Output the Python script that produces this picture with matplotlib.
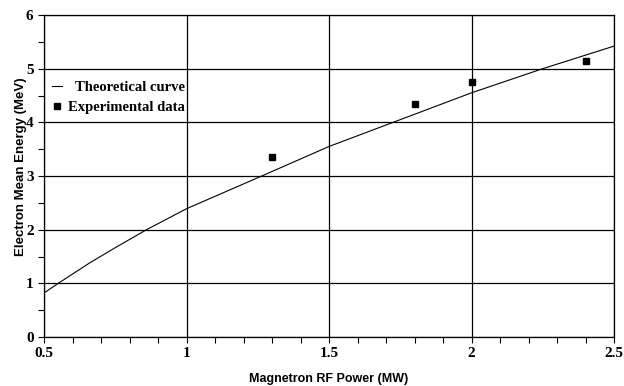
import numpy as np
import matplotlib
matplotlib.use('Agg')
import matplotlib.pyplot as plt
from matplotlib.ticker import MultipleLocator

# theoretical curve
power_curve = [0.5, 0.55, 0.66, 0.755, 0.86, 1.0, 1.264, 1.5, 1.725, 2.0, 2.25, 2.5]
energy_curve = [0.82, 1.0, 1.38, 1.68, 2.0, 2.39, 3.0, 3.55, 4.0, 4.55, 5.0, 5.42]

# measured points
power_exp = [1.3, 1.8, 2.0, 2.4]
energy_exp = [3.36, 4.35, 4.75, 5.15]

fig = plt.figure(figsize=(6.24, 3.86), dpi=100)
ax = fig.add_axes([44/624, 1-337/386, 570/624, 322/386])

ax.plot(power_curve, energy_curve, color='black', lw=0.8, label='Theoretical curve')
ax.plot(power_exp, energy_exp, 's', color='black', ms=5, ls='none', label='Experimental data')

ax.set_xlim(0.5, 2.5)
ax.set_ylim(0, 6)
ax.xaxis.set_major_locator(MultipleLocator(0.5))
ax.xaxis.set_minor_locator(MultipleLocator(0.1))
ax.yaxis.set_major_locator(MultipleLocator(1))
ax.yaxis.set_minor_locator(MultipleLocator(0.5))
ax.set_xticks([0.5, 1, 1.5, 2, 2.5])
ax.set_xticklabels(['0.5', '1', '1.5', '2', '2.5'])
ax.grid(True, which='major', color='black', lw=0.9)
ax.tick_params(which='both', direction='out', length=4, width=0.8, colors='black')
for lab in ax.get_xticklabels() + ax.get_yticklabels():
    lab.set_fontfamily('Liberation Serif')
    lab.set_fontweight('bold')
    lab.set_fontsize(11)
for s in ax.spines.values():
    s.set_color('black')
    s.set_linewidth(0.9)

ax.set_xlabel('Magnetron RF Power (MW)', fontfamily='Liberation Sans', fontweight='bold',
              fontsize=9, labelpad=9)
ax.set_ylabel('Electron Mean Energy (MeV)', fontfamily='Liberation Sans', fontweight='bold',
              fontsize=9.5)
ax.yaxis.set_label_coords(-0.03, 0.528)

leg = ax.legend(loc='upper left', bbox_to_anchor=(0.0035, 0.815), frameon=False,
                prop={'family': 'Liberation Serif', 'weight': 'bold', 'size': 10.5},
                handlelength=0.7, handletextpad=0.4, labelspacing=0.5, borderaxespad=0)

# right-align the legend texts like the original (handles stay on the left)
fig.canvas.draw()
widths = [t.get_window_extent().width for t in leg.get_texts()]
rows = leg._legend_handle_box.get_children()[0].get_children()
for row, w in zip(rows, widths):
    row.sep += (max(widths) - w) * 72 / fig.dpi

fig.savefig('out.png', dpi=100)
